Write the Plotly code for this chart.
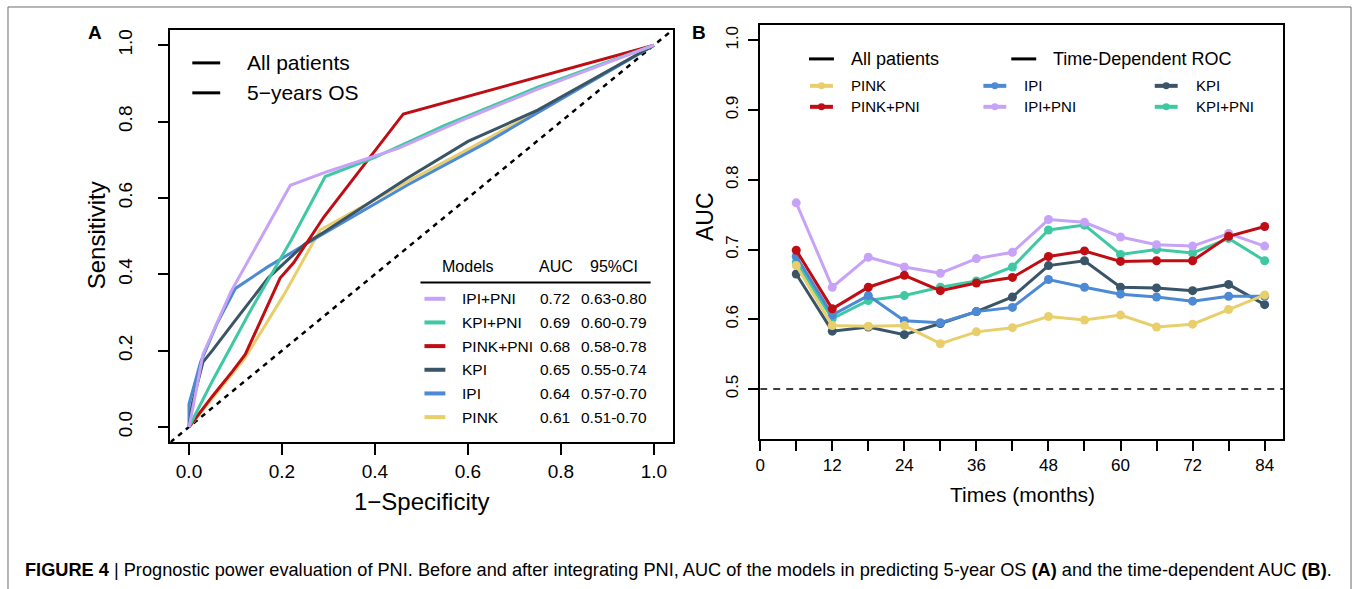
import plotly.graph_objects as go

W, H = 1357, 589
FONT = "Liberation Sans, Arial, Helvetica, sans-serif"

# ---------------- Panel A: ROC curves (5-year OS) ----------------
roc_models = ["IPI+PNI", "KPI+PNI", "PINK+PNI", "KPI", "IPI", "PINK"]
roc_auc = ["0.72", "0.69", "0.68", "0.65", "0.64", "0.61"]
roc_ci = ["0.63-0.80", "0.60-0.79", "0.58-0.78", "0.55-0.74", "0.57-0.70", "0.51-0.70"]

ipi_pni_fpr = [0, 0.01, 0.03, 0.09, 0.218, 0.30, 0.45, 0.60, 0.75, 1.0]
ipi_pni_tpr = [0, 0.06, 0.19, 0.354, 0.633, 0.67, 0.73, 0.81, 0.885, 1.0]
kpi_pni_fpr = [0, 0.05, 0.13, 0.22, 0.293, 0.40, 0.55, 0.75, 1.0]
kpi_pni_tpr = [0, 0.12, 0.30, 0.49, 0.656, 0.706, 0.79, 0.89, 1.0]
pink_pni_fpr = [0, 0.05, 0.093, 0.121, 0.196, 0.225, 0.29, 0.461, 1.0]
pink_pni_tpr = [0, 0.08, 0.145, 0.19, 0.39, 0.43, 0.55, 0.82, 1.0]
kpi_fpr = [0, 0.007, 0.03, 0.05, 0.10, 0.17, 0.25, 0.29, 0.47, 0.60, 0.75, 1.0]
kpi_tpr = [0, 0.06, 0.17, 0.20, 0.28, 0.39, 0.48, 0.51, 0.652, 0.748, 0.83, 1.0]
ipi_fpr = [0, 0.0, 0.025, 0.06, 0.10, 0.17, 0.28, 0.47, 0.64, 1.0]
ipi_tpr = [0, 0.06, 0.17, 0.27, 0.363, 0.42, 0.50, 0.634, 0.745, 1.0]
pink_fpr = [0, 0.06, 0.12, 0.204, 0.282, 0.47, 0.65, 1.0]
pink_tpr = [0, 0.09, 0.18, 0.346, 0.516, 0.643, 0.76, 1.0]

roc_fpr = {"IPI+PNI": ipi_pni_fpr, "KPI+PNI": kpi_pni_fpr, "PINK+PNI": pink_pni_fpr,
           "KPI": kpi_fpr, "IPI": ipi_fpr, "PINK": pink_fpr}
roc_tpr = {"IPI+PNI": ipi_pni_tpr, "KPI+PNI": kpi_pni_tpr, "PINK+PNI": pink_pni_tpr,
           "KPI": kpi_tpr, "IPI": ipi_tpr, "PINK": pink_tpr}

# ---------------- Panel B: time-dependent AUC ----------------
months = [6, 12, 18, 24, 30, 36, 42, 48, 54, 60, 66, 72, 78, 84]
auc_pink = [0.677, 0.591, 0.590, 0.591, 0.565, 0.582, 0.588, 0.604, 0.599, 0.606, 0.589, 0.593, 0.614, 0.635]
auc_pink_pni = [0.699, 0.615, 0.646, 0.663, 0.641, 0.652, 0.660, 0.690, 0.698, 0.683, 0.684, 0.684, 0.719, 0.733]
auc_ipi = [0.690, 0.606, 0.634, 0.598, 0.595, 0.611, 0.617, 0.657, 0.646, 0.636, 0.632, 0.626, 0.633, 0.633]
auc_ipi_pni = [0.767, 0.646, 0.689, 0.675, 0.666, 0.687, 0.696, 0.743, 0.739, 0.718, 0.707, 0.705, 0.723, 0.705]
auc_kpi = [0.665, 0.583, 0.589, 0.578, 0.594, 0.611, 0.632, 0.677, 0.684, 0.646, 0.645, 0.641, 0.650, 0.621]
auc_kpi_pni = [0.682, 0.601, 0.627, 0.634, 0.646, 0.655, 0.675, 0.728, 0.735, 0.693, 0.700, 0.695, 0.716, 0.684]

auc_series = {"PINK": auc_pink, "PINK+PNI": auc_pink_pni, "IPI": auc_ipi,
              "IPI+PNI": auc_ipi_pni, "KPI": auc_kpi, "KPI+PNI": auc_kpi_pni}

colors = {"IPI+PNI": "#C7A3F7", "KPI+PNI": "#3FC9A3", "PINK+PNI": "#C00D14",
          "KPI": "#3A5567", "IPI": "#4C8AD5", "PINK": "#E8CF6C"}

a_ticks = [0, 0.2, 0.4, 0.6, 0.8, 1.0]
a_ticktext = ["0.0", "0.2", "0.4", "0.6", "0.8", "1.0"]
b_xticks = list(range(0, 85, 6))
b_xticktext = [str(v) if v % 12 == 0 else "" for v in b_xticks]
b_yticks = [0.5, 0.6, 0.7, 0.8, 0.9, 1.0]
b_yticktext = ["0.5", "0.6", "0.7", "0.8", "0.9", "1.0"]

caption = ("<b>FIGURE 4</b> | Prognostic power evaluation of PNI. Before and after integrating PNI, "
           "AUC of the models in predicting 5-year OS <b>(A)</b> and the time-dependent AUC <b>(B)</b>.")


def px(x):
    return x / W


def py(y):
    return 1 - y / H


def label(text, x, y, size, xanchor="center", angle=0, family=None):
    f = dict(size=size, color="black")
    if family:
        f["family"] = family
    return dict(text=text, x=px(x), y=py(y), xref="paper", yref="paper",
                xanchor=xanchor, yanchor="middle", textangle=angle,
                showarrow=False, font=f, borderpad=0)


fig = go.Figure()

# diagonal reference
fig.add_trace(go.Scatter(x=[-0.04, 1.04], y=[-0.04, 1.04], mode="lines",
                         line=dict(color="black", width=2.5, dash="5px,5px"),
                         xaxis="x", yaxis="y", showlegend=False, hoverinfo="skip"))
for m in ["PINK", "IPI", "KPI", "PINK+PNI", "KPI+PNI", "IPI+PNI"]:
    fig.add_trace(go.Scatter(x=roc_fpr[m], y=roc_tpr[m], mode="lines", name=m,
                             line=dict(color=colors[m], width=3),
                             xaxis="x", yaxis="y", showlegend=False))

# reference line 0.5 in panel B
fig.add_trace(go.Scatter(x=[0, 87.1], y=[0.5, 0.5], mode="lines",
                         line=dict(color="black", width=1.6, dash="7px,6px"),
                         xaxis="x2", yaxis="y2", showlegend=False, hoverinfo="skip"))
for m in ["KPI+PNI", "KPI", "IPI+PNI", "IPI", "PINK+PNI", "PINK"]:
    fig.add_trace(go.Scatter(x=months, y=auc_series[m], mode="lines+markers", name=m,
                             line=dict(color=colors[m], width=3),
                             marker=dict(color=colors[m], size=9),
                             xaxis="x2", yaxis="y2", showlegend=False))

axis_common = dict(showline=True, mirror=True, linecolor="black", linewidth=1.5,
                   ticks="outside", tickwidth=1.5, tickcolor="black",
                   showgrid=False, zeroline=False)

shapes = []
annotations = []

# outer frame
shapes.append(dict(type="rect", xref="paper", yref="paper", x0=px(3), x1=px(1351),
                   y0=py(600), y1=py(6), line=dict(color="#6b6b6b", width=1)))

# panel labels
annotations.append(label("<b>A</b>", 90, 32, 19))
annotations.append(label("<b>B</b>", 697, 32, 19))

# axis titles
annotations.append(label("Sensitivity", 92, 235, 24, angle=-90))
annotations.append(label("1\u2212Specificity", 418, 501, 24))
annotations.append(label("AUC", 702, 216, 23, angle=-90))
annotations.append(label("Times (months)", 1021, 494, 21))

# Panel A top-left legend
for yy, txt in [(62, "All patients"), (92, "5\u2212years OS")]:
    shapes.append(dict(type="line", xref="paper", yref="paper", x0=px(188), x1=px(216),
                       y0=py(yy), y1=py(yy), line=dict(color="black", width=3)))
    annotations.append(label(txt, 242, yy, 21, xanchor="left"))

# Panel A table
annotations.append(label("Models", 465, 266, 16))
annotations.append(label("AUC", 553, 266, 16))
annotations.append(label("95%CI", 611, 266, 16))
shapes.append(dict(type="line", xref="paper", yref="paper", x0=px(417), x1=px(648),
                   y0=py(282), y1=py(282), line=dict(color="black", width=1.8)))
for i, m in enumerate(roc_models):
    yy = 298.3 + i * 23.7
    shapes.append(dict(type="line", xref="paper", yref="paper", x0=px(421), x1=px(442),
                       y0=py(yy), y1=py(yy), line=dict(color=colors[m], width=4)))
    annotations.append(label(m, 458, yy, 15.5, xanchor="left"))
    annotations.append(label(roc_auc[i], 536, yy, 15.5, xanchor="left"))
    annotations.append(label(roc_ci[i], 577, yy, 15.5, xanchor="left"))

# Panel B legend
for x0, txt in [(807, "All patients"), (1010, "Time-Dependent ROC")]:
    shapes.append(dict(type="line", xref="paper", yref="paper", x0=px(x0), x1=px(x0 + 25),
                       y0=py(58), y1=py(58), line=dict(color="black", width=3)))
    annotations.append(label(txt, x0 + 41, 58, 18, xanchor="left"))
b_leg = [("PINK", 808, 85), ("IPI", 982, 85), ("KPI", 1154, 85),
         ("PINK+PNI", 808, 106), ("IPI+PNI", 982, 106), ("KPI+PNI", 1154, 106)]
for m, x0, yy in b_leg:
    shapes.append(dict(type="line", xref="paper", yref="paper", x0=px(x0), x1=px(x0 + 23),
                       y0=py(yy), y1=py(yy), line=dict(color=colors[m], width=4)))
    shapes.append(dict(type="circle", xref="paper", yref="paper", x0=px(x0 + 8), x1=px(x0 + 15),
                       y0=py(yy + 3.5), y1=py(yy - 3.5), fillcolor=colors[m],
                       line=dict(color=colors[m], width=0)))
    annotations.append(label(m, x0 + 40, yy, 15, xanchor="left"))

# caption
annotations.append(label(caption, 19, 570, 18.2, xanchor="left",
                         family="Liberation Sans Narrow, Arial Narrow, Liberation Sans, sans-serif"))

fig.update_layout(
    width=W, height=H, margin=dict(l=0, r=0, t=0, b=0),
    paper_bgcolor="white", plot_bgcolor="white",
    font=dict(family=FONT, color="black"),
    showlegend=False,
    xaxis=dict(domain=[px(166), px(670)], range=[-0.04, 1.04], tickvals=a_ticks,
               ticktext=a_ticktext, ticklen=11, tickfont=dict(size=19), anchor="y", **axis_common),
    yaxis=dict(domain=[py(442), py(29)], range=[-0.04, 1.04], tickvals=a_ticks,
               ticktext=a_ticktext, ticklen=11, tickangle=-90, ticklabelstandoff=18,
               tickfont=dict(size=19), anchor="x", **axis_common),
    xaxis2=dict(domain=[px(758), px(1283)], range=[0, 87.1], tickvals=b_xticks,
                ticktext=b_xticktext, ticklen=10, tickfont=dict(size=17), anchor="y2", **axis_common),
    yaxis2=dict(domain=[py(439), py(24)], range=[0.428, 1.022], tickvals=b_yticks,
                ticktext=b_yticktext, ticklen=10, tickangle=-90, ticklabelstandoff=4,
                tickfont=dict(size=17), anchor="x2", **axis_common),
    shapes=shapes, annotations=annotations,
)

fig.write_html("out.html")
